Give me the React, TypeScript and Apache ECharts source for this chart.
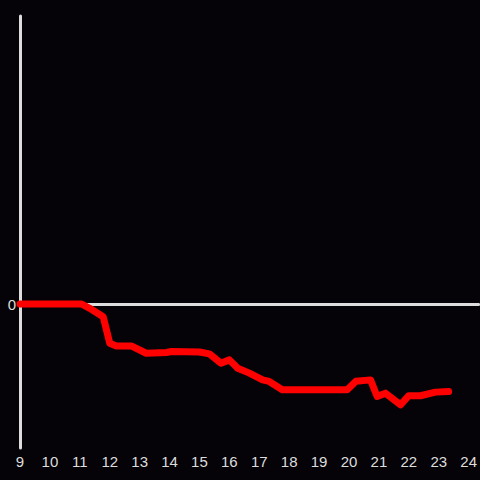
import React, { useEffect, useRef } from "react";
import * as echarts from "echarts";

const hours: number[] = [9, 11.06, 11.33, 11.78, 12.0, 12.22, 12.72, 13.22, 13.89, 14.07, 15.0, 15.33, 15.72, 16.0, 16.28, 16.67, 17.11, 17.33, 17.77, 19.94, 20.23, 20.72, 20.94, 21.22, 21.72, 22.0, 22.39, 22.89, 23.33];
const values: number[] = [0, 0, -0.03, -0.088, -0.272, -0.291, -0.291, -0.342, -0.337, -0.33, -0.333, -0.346, -0.411, -0.388, -0.446, -0.48, -0.527, -0.538, -0.596, -0.596, -0.537, -0.527, -0.642, -0.619, -0.7, -0.637, -0.637, -0.612, -0.608];
const xMin = 9;
const xMax = 24.333;
const yMin = -1;
const yMax = 2;

export default function App() {
  const ref = useRef<HTMLDivElement>(null);
  useEffect(() => {
    if (!ref.current) return;
    const chart = echarts.init(ref.current, null, { renderer: "svg" });
    const axisColor = "#dddddd";
    chart.setOption({
      animation: false,
      backgroundColor: "#050307",
      grid: { left: 20, right: 0, top: 16, bottom: 32 },
      xAxis: [
        {
          type: "value",
          min: xMin,
          max: xMax,
          interval: 1,
          axisLine: { show: false, onZero: false },
          axisTick: { show: false },
          splitLine: { show: false },
          axisLabel: {
            color: axisColor,
            fontSize: 15,
            margin: 6,
            fontFamily: "Liberation Sans, Arial, sans-serif",
            showMaxLabel: false,
            formatter: (v: number) => (Number.isInteger(v) ? String(v) : ""),
          },
        },
        {
          type: "value",
          position: "bottom",
          min: xMin,
          max: xMax,
          axisLine: { show: true, onZero: true, lineStyle: { color: axisColor, width: 3 } },
          axisTick: { show: false },
          axisLabel: { show: false },
          splitLine: { show: false },
        },
      ],
      yAxis: {
        type: "value",
        min: yMin,
        max: yMax,
        interval: 1,
        axisLine: { show: true, onZero: false, lineStyle: { color: axisColor, width: 3 } },
        axisTick: { show: false },
        splitLine: { show: false },
        axisLabel: {
          color: axisColor,
          fontSize: 15,
          margin: 4,
          fontFamily: "Liberation Sans, Arial, sans-serif",
          formatter: (v: number) => (v === 0 ? "0" : ""),
        },
      },
      series: [
        {
          type: "line",
          xAxisIndex: 0,
          data: hours.map((h, i) => [h, values[i]]),
          showSymbol: false,
          lineStyle: { color: "#ff0000", width: 7, join: "round", cap: "round" },
          z: 5,
        },
      ],
    });
    return () => chart.dispose();
  }, []);
  return <div ref={ref} style={{ position: "fixed", left: 0, top: 0, width: 480, height: 480 }} />;
}
